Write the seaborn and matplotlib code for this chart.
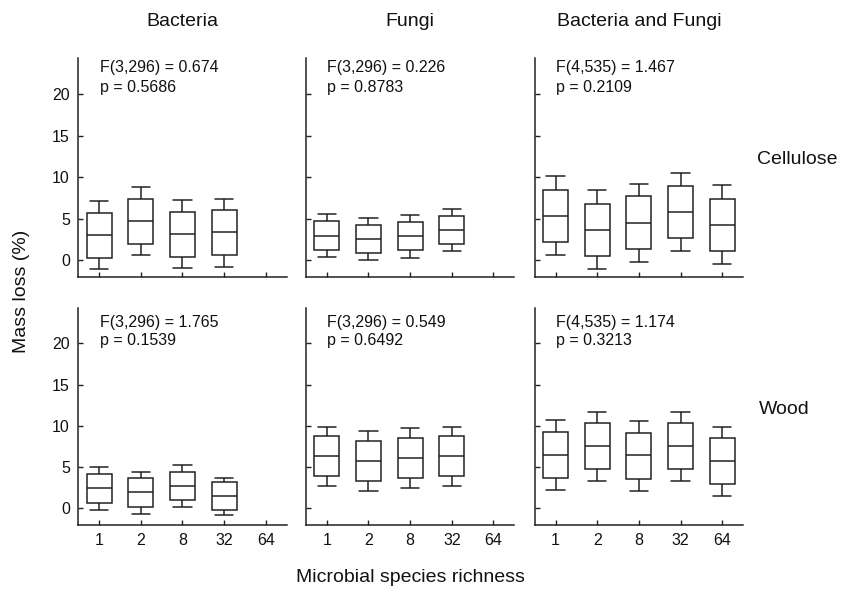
import matplotlib
matplotlib.use("Agg")
import matplotlib.pyplot as plt
import seaborn as sns
import pandas as pd

# ---- data: five-number summaries [whisker low, box low, centre line, box high, whisker high]
richness = ["1", "2", "8", "32", "64"]
microbes = ["Bacteria", "Fungi", "Bacteria and Fungi"]
substrates = ["Cellulose", "Wood"]

bacteria_cellulose = [[-1.08, 0.24, 3.00, 5.73, 7.08],
                      [0.60, 1.92, 4.68, 7.41, 8.81],
                      [-1.00, 0.36, 3.09, 5.81, 7.20],
                      [-0.80, 0.56, 3.33, 6.05, 7.41]]
fungi_cellulose = [[0.36, 1.24, 2.96, 4.68, 5.56],
                   [-0.04, 0.80, 2.52, 4.28, 5.08],
                   [0.28, 1.16, 2.88, 4.60, 5.48],
                   [1.04, 1.88, 3.60, 5.32, 6.20]]
both_cellulose = [[0.60, 2.20, 5.32, 8.48, 10.08],
                  [-1.08, 0.52, 3.64, 6.80, 8.40],
                  [-0.20, 1.32, 4.52, 7.68, 9.20],
                  [1.12, 2.64, 5.80, 8.96, 10.52],
                  [-0.52, 1.08, 4.20, 7.32, 9.00]]
bacteria_wood = [[-0.16, 0.72, 2.44, 4.12, 5.00],
                 [-0.64, 0.20, 1.96, 3.64, 4.44],
                 [0.16, 1.00, 2.72, 4.44, 5.28],
                 [-0.76, -0.24, 1.52, 3.16, 3.68]]
fungi_wood = [[2.72, 3.96, 6.32, 8.72, 9.92],
              [2.16, 3.32, 5.80, 8.20, 9.40],
              [2.52, 3.72, 6.16, 8.56, 9.76],
              [2.72, 3.96, 6.36, 8.72, 9.92]]
both_wood = [[2.28, 3.64, 6.48, 9.20, 10.68],
             [3.32, 4.76, 7.56, 10.32, 11.68],
             [2.16, 3.60, 6.44, 9.16, 10.56],
             [3.36, 4.76, 7.60, 10.32, 11.68],
             [1.52, 2.92, 5.72, 8.56, 9.88]]

stat_f = [["F(3,296) = 0.674", "F(3,296) = 0.226", "F(4,535) = 1.467"],
          ["F(3,296) = 1.765", "F(3,296) = 0.549", "F(4,535) = 1.174"]]
stat_p = [["p = 0.5686", "p = 0.8783", "p = 0.2109"],
          ["p = 0.1539", "p = 0.6492", "p = 0.3213"]]

panels = [[bacteria_cellulose, fungi_cellulose, both_cellulose],
          [bacteria_wood, fungi_wood, both_wood]]

rows = []
for r, sub in enumerate(substrates):
    for c, mic in enumerate(microbes):
        for gi, summary in enumerate(panels[r][c]):
            for v in summary:
                rows.append({"substrate": sub, "microbe": mic,
                             "richness": richness[gi], "value": v})
df = pd.DataFrame(rows)

# ---- style
sns.set_style("ticks")
plt.rcParams["font.family"] = ["Liberation Sans", "DejaVu Sans"]
plt.rcParams["axes.edgecolor"] = "#222222"
plt.rcParams["axes.linewidth"] = 1.1

W, H = 848, 592
fig = plt.figure(figsize=(W / 100, H / 100), dpi=100)

lefts = [78.3, 306.0, 534.7]
axw = 208.3
tops = [58.3, 307.7]
bottoms = [276.7, 525.0]
line_col = "#222222"

for r in range(2):
    for c in range(3):
        ax = fig.add_axes([lefts[c] / W, 1 - bottoms[r] / H, axw / W,
                           (bottoms[r] - tops[r]) / H])
        sub = df[(df.substrate == substrates[r]) & (df.microbe == microbes[c])]
        sns.boxplot(data=sub, x="richness", y="value", order=richness,
                    whis=(0, 100), width=0.6, color="white",
                    linecolor=line_col, linewidth=1.1, showfliers=False, ax=ax)
        # widen caps
        for ln in ax.lines:
            xd = list(ln.get_xdata())
            yd = list(ln.get_ydata())
            if len(xd) == 2 and yd[0] == yd[1] and abs(abs(xd[1] - xd[0]) - 0.3) < 1e-6:
                cx = (xd[0] + xd[1]) / 2
                ln.set_xdata([cx - 0.22, cx + 0.22])
        ax.set_xlim(-0.5, 4.5)
        ax.set_ylim(-2.0, 24.3)
        ax.set_yticks([0, 5, 10, 15, 20])
        ax.set_xlabel("")
        ax.set_ylabel("")
        sns.despine(ax=ax)
        ax.tick_params(direction="in", length=3.5, width=1, color=line_col,
                       labelsize=11.5, labelcolor="#111111", pad=6)
        if c > 0:
            ax.set_yticklabels([])
        if r == 0:
            ax.set_xticklabels([])
        h = bottoms[r] - tops[r]
        if r == 0:
            y1, y2 = 1 - 9 / h, 1 - 29 / h
        else:
            y1, y2 = 1 - 14.6 / h, 1 - 33.3 / h
        ax.text(0.103, y1, stat_f[r][c], transform=ax.transAxes,
                fontsize=11.5, va="center", ha="left", color="#111111")
        ax.text(0.103, y2, stat_p[r][c], transform=ax.transAxes,
                fontsize=11.5, va="center", ha="left", color="#111111")
        if r == 0:
            fig.text((lefts[c] + axw / 2) / W, 1 - 22 / H, microbes[c],
                     fontsize=14, ha="center", va="center", color="#111111")

fig.text(757 / W, 1 - 160 / H, "Cellulose", fontsize=14, ha="left",
         va="center", color="#111111")
fig.text(759 / W, 1 - 409 / H, "Wood", fontsize=14, ha="left",
         va="center", color="#111111")
fig.text(410.5 / W, 1 - 577 / H, "Microbial species richness", fontsize=14,
         ha="center", va="center", color="#111111")
fig.text(22 / W, 1 - 291 / H, "Mass loss (%)", fontsize=14, rotation=90,
         ha="center", va="center", color="#111111")

fig.savefig("out.png", dpi=100)
